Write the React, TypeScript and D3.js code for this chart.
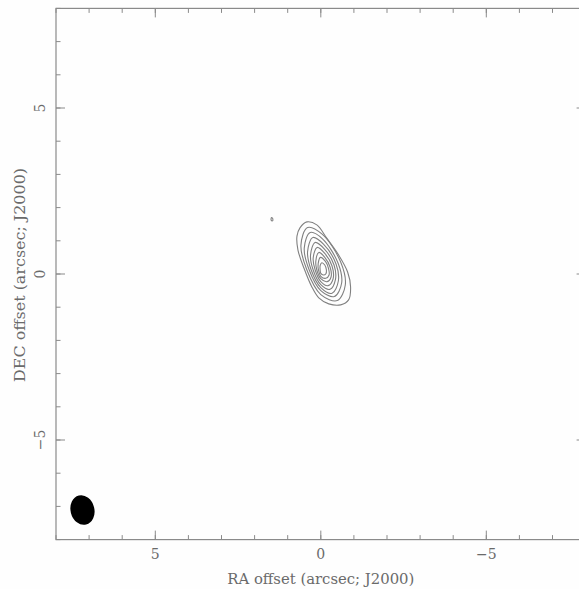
import React from "react";
import * as d3 from "d3";

const W = 579;
const H = 589;

// axis extents (arcsec)
const raDomain: [number, number] = [8, -8];
const decDomain: [number, number] = [-8, 8];
const majorTicks = [5, 0, -5];
const minorTicks = [-8, -7, -6, -5, -4, -3, -2, -1, 0, 1, 2, 3, 4, 5, 6, 7, 8];
const tickLabels = ["5", "0", "−5"];

// contour polylines [RA offset, DEC offset] in arcsec, outer to inner
const contour0: [number, number][] = [
  [0.63, 1.39], [0.42, 1.57], [0.12, 1.48], [-0.18, 1.08], [-0.54, 0.57], [-0.81, 0.06],
  [-0.9, -0.39], [-0.84, -0.78], [-0.6, -0.93], [-0.24, -0.9], [0.06, -0.72], [0.27, -0.39],
  [0.51, 0.18], [0.69, 0.72], [0.72, 1.14],
];
const contour1: [number, number][] = [
  [0.4, 1.4], [-0.04, 1.2], [-0.6, 0.36], [-0.74, -0.33], [-0.5, -0.8], [0.0, -0.62], [0.42, 0.12], [0.6, 0.87],
];
const contour2: [number, number][] = [
  [0.32, 1.25], [-0.05, 1.06], [-0.52, 0.33], [-0.63, -0.27], [-0.41, -0.68], [0.0, -0.5], [0.35, 0.12], [0.5, 0.78],
];
const contour3: [number, number][] = [
  [0.24, 1.1], [-0.08, 0.9], [-0.46, 0.3], [-0.53, -0.21], [-0.34, -0.58], [0.0, -0.41], [0.29, 0.12], [0.4, 0.67],
];
const contour4: [number, number][] = [
  [0.17, 0.95], [-0.11, 0.75], [-0.4, 0.27], [-0.44, -0.18], [-0.28, -0.46], [0.0, -0.32], [0.23, 0.12], [0.31, 0.57],
];
const contour5: [number, number][] = [
  [0.11, 0.8], [-0.12, 0.62], [-0.34, 0.24], [-0.37, -0.15], [-0.22, -0.35], [0.0, -0.23], [0.17, 0.12], [0.23, 0.48],
];
const contour6: [number, number][] = [
  [0.06, 0.65], [-0.12, 0.5], [-0.28, 0.21], [-0.31, -0.09], [-0.19, -0.23], [0.0, -0.14], [0.12, 0.12], [0.15, 0.39],
];
const contour7: [number, number][] = [
  [0.01, 0.5], [-0.14, 0.38], [-0.23, 0.18], [-0.25, -0.03], [-0.15, -0.13], [0.0, -0.07], [0.07, 0.12], [0.08, 0.31],
];
const contour8: [number, number][] = [
  [-0.03, 0.34], [-0.12, 0.27], [-0.17, 0.12], [-0.15, 0.0], [-0.08, -0.03], [0.0, 0.02], [0.02, 0.12], [0.02, 0.25],
];
const speck: [number, number][] = [
  [1.49, 1.7], [1.45, 1.66], [1.46, 1.6], [1.5, 1.62],
];
const contours = [contour0, contour1, contour2, contour3, contour4, contour5, contour6, contour7, contour8, speck];

// synthesized beam: center (RA, DEC), semi-axes (arcsec), position angle (deg)
const beamCenter: [number, number] = [7.2, -7.11];
const beamAxes: [number, number] = [0.36, 0.45];
const beamPA = 14;

const xLabel = "RA offset (arcsec; J2000)";
const yLabel = "DEC offset (arcsec; J2000)";

export default function App() {
  const x = d3.scaleLinear().domain(raDomain).range([56, 585.6]);
  const y = d3.scaleLinear().domain(decDomain).range([539.6, 8.4]);
  const line = d3
    .line<[number, number]>()
    .x((d) => x(d[0]))
    .y((d) => y(d[1]))
    .curve(d3.curveCatmullRomClosed.alpha(0.5));

  const axisColor = "#8a8a8a";
  const textColor = "#6a6a6a";
  const x0 = x(raDomain[0]);
  const x1 = x(raDomain[1]);
  const y0 = y(decDomain[0]);
  const y1 = y(decDomain[1]);
  const font = "'DejaVu Serif', 'Liberation Serif', serif";

  const bcx = x(beamCenter[0]);
  const bcy = y(beamCenter[1]);
  const brx = Math.abs(x(beamAxes[0]) - x(0));
  const bry = Math.abs(y(beamAxes[1]) - y(0));

  return (
    <svg
      width={W}
      height={H}
      style={{ position: "absolute", left: 0, top: 0, display: "block", background: "#fefefe" }}
    >
      <rect x={0} y={0} width={W} height={H} fill="#fefefe" />
      {/* frame */}
      <rect x={x0} y={y1} width={x1 - x0} height={y0 - y1} fill="none" stroke={axisColor} strokeWidth={1.2} />
      {/* minor ticks */}
      {minorTicks.map((t) => (
        <g key={"m" + t} stroke={axisColor} strokeWidth={1}>
          <line x1={x(t)} x2={x(t)} y1={y0} y2={y0 - 4.5} />
          <line x1={x(t)} x2={x(t)} y1={y1} y2={y1 + 4.5} />
          <line x1={x0} x2={x0 + 4.5} y1={y(t)} y2={y(t)} />
          <line x1={x1} x2={x1 - 4.5} y1={y(t)} y2={y(t)} />
        </g>
      ))}
      {majorTicks.map((t) => (
        <g key={"M" + t} stroke={axisColor} strokeWidth={1}>
          <line x1={x(t)} x2={x(t)} y1={y0} y2={y0 - 9} />
          <line x1={x(t)} x2={x(t)} y1={y1} y2={y1 + 9} />
          <line x1={x0} x2={x0 + 9} y1={y(t)} y2={y(t)} />
          <line x1={x1} x2={x1 - 9} y1={y(t)} y2={y(t)} />
        </g>
      ))}
      {/* tick labels */}
      {majorTicks.map((t, i) => (
        <text key={"xl" + t} x={x(t)} y={559} textAnchor="middle" fontSize={14} fill={textColor} fontFamily={font}>
          {tickLabels[i]}
        </text>
      ))}
      {majorTicks.map((t, i) => (
        <text
          key={"yl" + t}
          transform={`translate(45,${y(t)}) rotate(-90)`}
          textAnchor="middle"
          fontSize={14}
          fill={textColor}
          fontFamily={font}
        >
          {tickLabels[i]}
        </text>
      ))}
      {/* axis titles */}
      <text
        x={x(0)}
        y={584}
        textAnchor="middle"
        fontSize={14}
        fill={textColor}
        fontFamily={font}
        textLength={187}
        lengthAdjust="spacingAndGlyphs"
      >
        {xLabel}
      </text>
      <text
        transform={`translate(25,${y(0) + 1}) rotate(-90)`}
        textAnchor="middle"
        fontSize={14}
        fill={textColor}
        fontFamily={font}
        textLength={214}
        lengthAdjust="spacingAndGlyphs"
      >
        {yLabel}
      </text>
      {/* contours */}
      {contours.map((c, i) => (
        <path key={"c" + i} d={line(c) || ""} fill="none" stroke="#808080" strokeWidth={1.1} />
      ))}
      {/* beam */}
      <ellipse cx={bcx} cy={bcy} rx={brx} ry={bry} fill="#000" transform={`rotate(${-beamPA},${bcx},${bcy})`} />
    </svg>
  );
}
